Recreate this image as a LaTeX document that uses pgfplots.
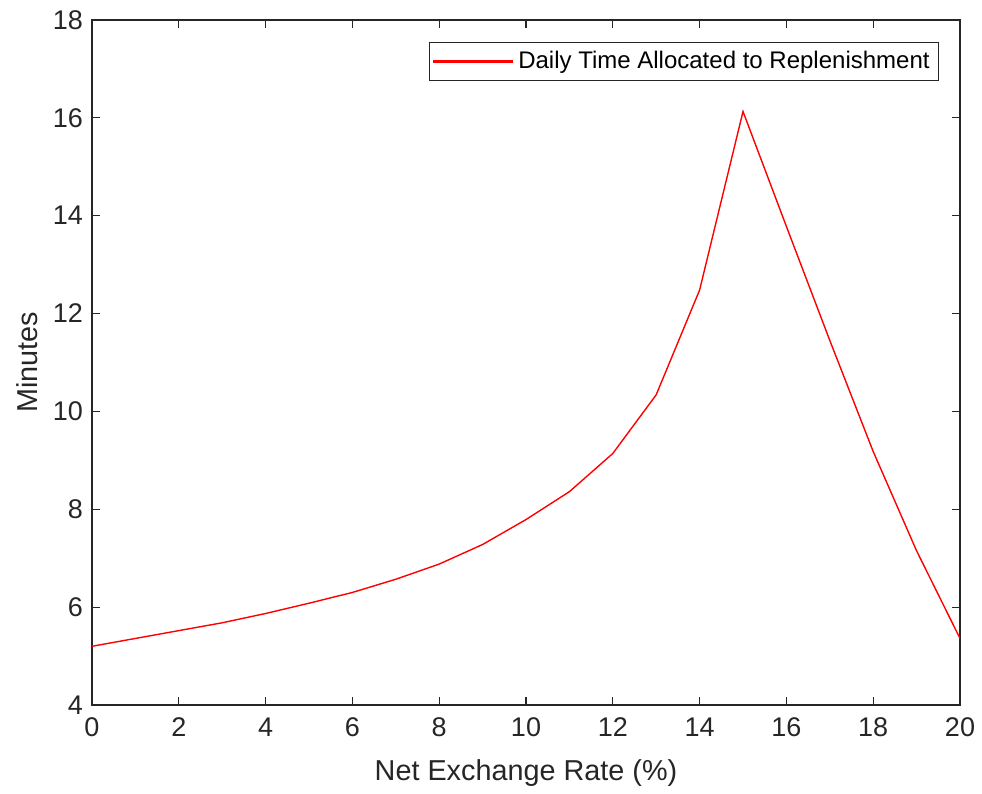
\documentclass[border=0pt]{standalone}
\usepackage{pgfplots}
\pgfplotsset{compat=1.18}
\usepackage{fontspec}
\setmainfont{Liberation Sans}

\definecolor{axgray}{RGB}{38,38,38}
\definecolor{linered}{RGB}{255,0,0}

\begin{document}
\begin{tikzpicture}
\begin{axis}[
  scale only axis,
  width=434bp, height=342.5bp,
  xmin=0, xmax=20, ymin=4, ymax=18,
  xtick={0,2,...,20}, ytick={4,6,...,18},
  tick align=inside,
  major tick length=4bp,
  axis line style={axgray, line width=0.55bp},
  every tick/.style={axgray, line width=0.55bp},
  /pgf/number format/assume math mode=true,
  tick label style={font=\fontsize{13.5bp}{15bp}\selectfont, text=axgray},
  xticklabel style={yshift=-3bp},
  yticklabel style={xshift=-1bp},
  xlabel={Net Exchange Rate (\%)},
  ylabel={Minutes},
  label style={font=\fontsize{14.4bp}{16bp}\selectfont, text=axgray},
  xlabel style={at={(axis description cs:0.5,-0.1)}, anchor=center},
  ylabel style={at={(axis description cs:-0.075,0.5)}, anchor=center},
  legend style={
    at={(rel axis cs:1,1)}, anchor=north east,
    xshift=-10.5bp, yshift=-11bp,
    draw=axgray,
    font=\fontsize{12bp}{14bp}\selectfont,
    inner xsep=2bp, inner ysep=2.5bp,
    nodes={inner xsep=2.5bp},
    cells={anchor=west},
  },
]
% the single series, with a long straight legend sample
\addplot[linered, line width=0.7bp,
  legend image code/.code={%
    \fill[linered] (0bp,-0.3bp) rectangle (39.5bp,0.3bp);}]
  coordinates {
  (0,5.20) (1,5.36) (2,5.52) (3,5.68) (4,5.87) (5,6.08) (6,6.30)
  (7,6.57) (8,6.88) (9,7.28) (10,7.79) (11,8.36) (12,9.14)
  (13,10.34) (14,12.48) (15,16.13) (16,13.78) (17,11.45)
  (18,9.18) (19,7.15) (20,5.36)
};
\addlegendentry{Daily Time Allocated to Replenishment}
\end{axis}
\path (current axis.south west) ++(-46bp,-43.5bp) coordinate (bbl);
\path (current axis.north east) ++(11bp,10bp) coordinate (bbr);
\path (bbl) rectangle (bbr);
\end{tikzpicture}
\end{document}
